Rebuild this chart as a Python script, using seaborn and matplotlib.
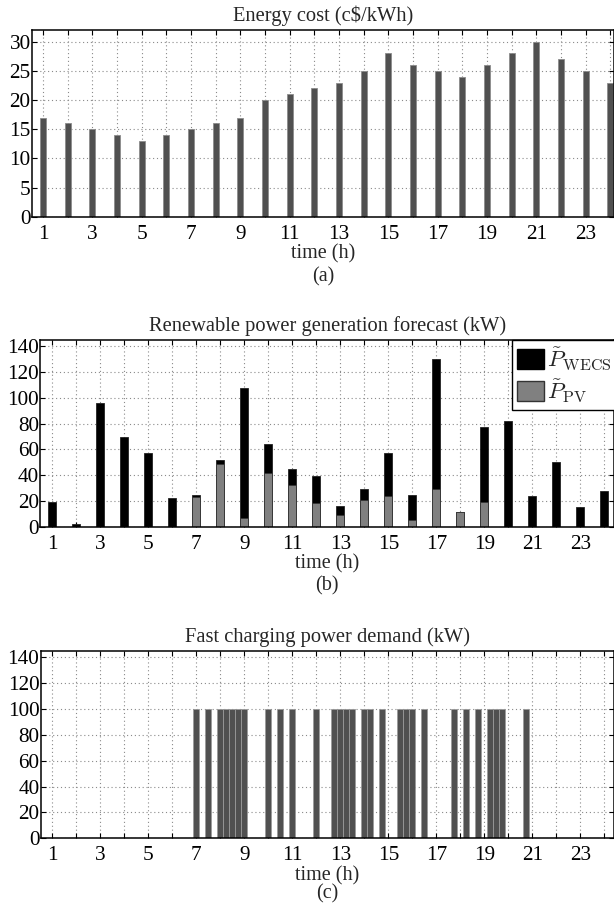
import matplotlib
matplotlib.use("Agg")
import matplotlib.pyplot as plt
import seaborn as sns
import pandas as pd
from matplotlib.patches import Patch

# ---------------- data ----------------
hours = list(range(1, 25))
hour_labels = [str(h) if h % 2 == 1 else "" for h in hours]

energy_cost = [17, 16, 15, 14, 13, 14, 15, 16, 17, 20, 21, 22,
               23, 25, 28, 26, 25, 24, 26, 28, 30, 27, 25, 23]

p_wecs = [19, 2, 96, 70, 57, 22.5, 2, 3, 101, 22, 13, 20.5,
          7, 8, 33, 19.5, 101, 0, 58.5, 82, 24, 50, 15, 27.5]
p_pv = [0, 0, 0, 0, 0, 0, 23, 49, 7, 42, 32, 18.5,
        9, 21, 24, 5.5, 29, 11.5, 19, 0, 0, 0, 0, 0]

# fast charging demand, 15-min slots (4 per hour, hours 1..24)
demand = [
    0, 0, 0, 0,        # 1
    0, 0, 0, 0,        # 2
    0, 0, 0, 0,        # 3
    0, 0, 0, 0,        # 4
    0, 0, 0, 0,        # 5
    0, 0, 0, 0,        # 6
    100, 0, 100, 0,    # 7
    100, 100, 100, 100,  # 8
    100, 0, 0, 0,      # 9
    100, 0, 100, 0,    # 10
    100, 0, 0, 0,      # 11
    100, 0, 0, 100,    # 12
    100, 100, 100, 0,  # 13
    100, 100, 0, 100,  # 14
    0, 0, 100, 100,    # 15
    100, 0, 100, 0,    # 16
    0, 0, 0, 100,      # 17
    0, 100, 0, 100,    # 18
    0, 100, 100, 100,  # 19
    0, 0, 0, 100,      # 20
    0, 0, 0, 0,        # 21
    0, 0, 0, 0,        # 22
    0, 0, 0, 0,        # 23
    0, 0, 0, 0,        # 24
]
slot_times = [h + q / 4 for h in hours for q in range(4)]

# ---------------- style ----------------
sns.set_style("ticks")
plt.rcParams["font.family"] = ["Liberation Serif", "DejaVu Serif"]
plt.rcParams["mathtext.fontset"] = "cm"
plt.rcParams["axes.linewidth"] = 1.1

W, H = 614, 910
fig = plt.figure(figsize=(W / 100, H / 100), dpi=100)

def axes_px(left, top, right, bottom):
    return fig.add_axes([left / W, 1 - bottom / H, (right - left) / W, (bottom - top) / H])

ax_a = axes_px(32, 30, 614, 216.7)
ax_b = axes_px(40.3, 340, 614, 526.7)
ax_c = axes_px(40.7, 650.7, 614, 838.3)

TICK_FS = 15.3
TITLE_FS = 14.8
LAB_FS = 14.5

def style_axes(ax, yticks, ylim, xlim, title, sub, sub_off):
    ax.set_xlim(*xlim)
    ax.set_ylim(*ylim)
    ax.set_xticks(hours)
    ax.set_xticklabels(hour_labels)
    ax.set_yticks(yticks)
    ax.set_yticklabels([str(v) for v in yticks])
    ax.grid(True, linestyle=(0, (1, 2.5)), color="#8a8a8a", linewidth=0.8)
    ax.set_axisbelow(True)
    ax.tick_params(axis="both", direction="in", top=True, right=True,
                   length=3.5, width=0.8, labelsize=TICK_FS, colors="black")
    ax.tick_params(axis="x", pad=5.9)
    ax.tick_params(axis="y", pad=1)
    for s in ax.spines.values():
        s.set_visible(True)
        s.set_color("black")
    ax.set_title(title, fontsize=TITLE_FS, pad=6.5)
    ax.set_xlabel("time (h)", fontsize=LAB_FS, labelpad=0.3)
    ax.set_ylabel("")
    h_px = ax.get_position().height * H
    ax.text(0.5, -sub_off / h_px, sub, transform=ax.transAxes,
            ha="center", va="center", fontsize=LAB_FS)

# ---- (a) energy cost ----
df_a = pd.DataFrame({"time": hours, "cost": energy_cost})
sns.barplot(data=df_a, x="time", y="cost", native_scale=True, width=0.25,
            color="#505050", saturation=1, edgecolor="#8c8c8c", linewidth=0.6,
            ax=ax_a)
style_axes(ax_a, [0, 5, 10, 15, 20, 25, 30], (0, 32), (0.554, 24.15),
           "Energy cost (c$/kWh)", "(a)", 60)

# ---- (b) renewable forecast ----
df_b = pd.DataFrame({"time": hours, "wecs": p_wecs, "pv": p_pv})
df_b["total"] = df_b["wecs"] + df_b["pv"]
sns.barplot(data=df_b, x="time", y="total", native_scale=True, width=0.33,
            color="black", saturation=1, edgecolor="#222222", linewidth=0.6,
            ax=ax_b)
sns.barplot(data=df_b, x="time", y="pv", native_scale=True, width=0.33,
            color="#808080", saturation=1, edgecolor="#333333", linewidth=0.6,
            ax=ax_b)
style_axes(ax_b, [0, 20, 40, 60, 80, 100, 120, 140], (0, 145), (0.5, 24.4),
           "Renewable power generation forecast (kW)", "(b)", 59)
handles = [Patch(facecolor="black", edgecolor="black"),
           Patch(facecolor="#808080", edgecolor="#333333")]
ax_b.legend(handles, [r"$\tilde{P}_{\mathrm{WECS}}$", r"$\tilde{P}_{\mathrm{PV}}$"],
            loc="upper left", bbox_to_anchor=(0.822, 1.0), borderaxespad=0,
            fontsize=16.5, handlelength=1.18, handleheight=1.0,
            handletextpad=0.12, labelspacing=0.2, borderpad=0.22,
            fancybox=False, edgecolor="black", framealpha=1)
ax_b.get_legend().get_frame().set_linewidth(1.0)

# ---- (c) fast charging demand ----
df_c = pd.DataFrame({"time": slot_times, "demand": demand})
sns.barplot(data=df_c, x="time", y="demand", native_scale=True, width=1.0,
            color="#505050", saturation=1, edgecolor="#9a9a9a", linewidth=0.6,
            ax=ax_c)
style_axes(ax_c, [0, 20, 40, 60, 80, 100, 120, 140], (0, 145), (0.517, 24.4),
           "Fast charging power demand (kW)", "(c)", 56)

fig.savefig("out.png", dpi=100)
